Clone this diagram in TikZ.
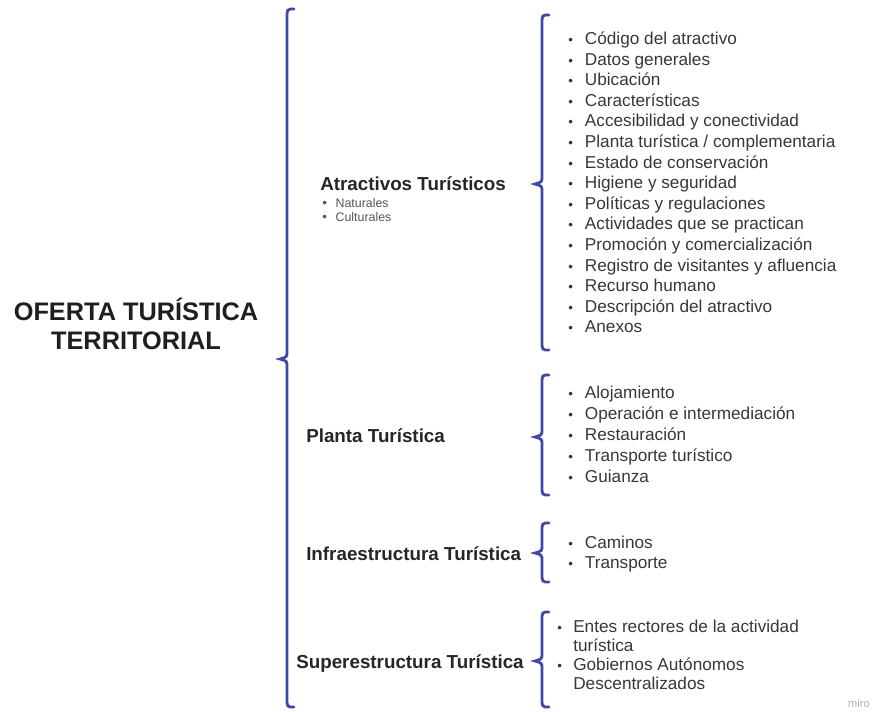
\documentclass[tikz,border=0pt]{standalone}
\usepackage{fontspec}
\setmainfont{Liberation Sans}
\definecolor{azul}{RGB}{62,72,165}
\definecolor{texto}{RGB}{55,55,55}
\newcommand{\bala}[1][12.5pt]{\makebox[#1][l]{\fontsize{10}{10}\selectfont\textbullet}}
\newcommand{\llave}[4]{\draw[llave] (#1+7,#2) .. controls (#1,#2) .. (#1,#2+9) -- (#1,#3-8) .. controls (#1,#3-2) .. (#1-7,#3) .. controls (#1,#3+2) .. (#1,#3+8) -- (#1,#4-9) .. controls (#1,#4) .. (#1+7,#4);}
\begin{document}
\begin{tikzpicture}[x=0.75pt,y=-0.75pt,
  llave/.style={draw=azul,line width=2.1pt,line cap=round},
  titulo/.style={inner sep=0,align=center,text=black!88,font=\bfseries\fontsize{19}{21.5}\selectfont},
  grupo/.style={anchor=base west,inner sep=0,text=black!85,font=\bfseries\fontsize{14.1}{16}\selectfont},
  sub/.style={anchor=base west,inner sep=0,text=texto!85,font=\fontsize{9.3}{11}\selectfont},
  item/.style={anchor=base west,inner sep=0,text=texto,font=\fontsize{12.9}{15}\selectfont}]
\useasboundingbox (0,0) rectangle (882,711);
\node[titulo] (oferta) at (136,324) {OFERTA TURÍSTICA\\TERRITORIAL};
\llave{287}{9}{359}{707}
\node[grupo] (atractivos) at (320,190) {Atractivos Turísticos};
\node[sub] (naturales) at (322,207) {\bala[10pt]Naturales};
\node[sub] (culturales) at (322,221) {\bala[10pt]Culturales};
\llave{542}{15}{184}{350}
\foreach \t [count=\i] in {Código del atractivo,Datos generales,Ubicación,Características,Accesibilidad y conectividad,Planta turística / complementaria,Estado de conservación,Higiene y seguridad,Políticas y regulaciones,Actividades que se practican,Promoción y comercialización,Registro de visitantes y afluencia,Recurso humano,Descripción del atractivo,Anexos}
  \node[item] (atr\i) at (568,{44.5+20.6*(\i-1)}) {\bala\t};
\node[grupo] (planta) at (306,442) {Planta Turística};
\llave{542}{375}{437}{495}
\foreach \t [count=\i] in {Alojamiento,Operación e intermediación,Restauración,Transporte turístico,Guianza}
  \node[item] (pla\i) at (568,{398+21*(\i-1)}) {\bala\t};
\node[grupo] (infra) at (306,560) {Infraestructura Turística};
\llave{542}{523}{553}{582}
\node[item] (inf1) at (568,548.5) {\bala Caminos};
\node[item] (inf2) at (568,568.5) {\bala Transporte};
\node[grupo] (supra) at (296,668) {Superestructura Turística};
\llave{542}{612}{661}{707}
\node[item] (sup1) at (557,632) {\bala[12pt]Entes rectores de la actividad};
\node[item] (sup2) at (573,651) {turística};
\node[item] (sup3) at (557,670) {\bala[12pt]Gobiernos Autónomos};
\node[item] (sup4) at (573,689) {Descentralizados};
\node[anchor=base,inner sep=0,text=black!30,font=\fontsize{8.5}{10}\selectfont] (miro) at (859,707) {miro};
\end{tikzpicture}
\end{document}
